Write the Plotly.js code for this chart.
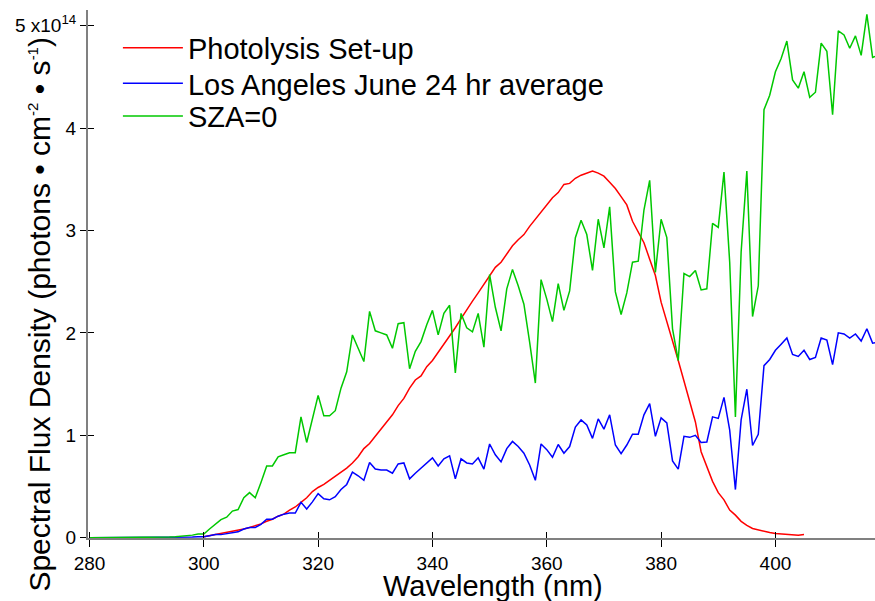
<!DOCTYPE html>
<html>
<head>
<meta charset="utf-8">
<script src="https://cdn.plot.ly/plotly-3.0.1.min.js"></script>
<style>html,body{margin:0;padding:0;background:#fff;}#chart{width:875px;height:601px;}</style>
</head>
<body>
<div id="chart"></div>
<script>
// Values in units of 1e14 photons cm^-2 s^-1
// Wavelength grids (nm)
const wlStart = 280;           // SZA=0 and Los Angeles series, 1 nm steps
const redStart = 300;          // Photolysis set-up, 1 nm steps

const sza0 = [
 0,0,0,0,0,0,0,0,0,0,0,
 0.002,0.003,0.004,0.006,0.008,0.012,0.018,0.025,0.035,0.035,
 0.085,0.127,0.176,0.20,0.26,0.275,0.39,0.44,0.39,0.54,
 0.70,0.70,0.79,0.81,0.83,0.83,1.18,0.93,1.16,1.39,
 1.19,1.19,1.24,1.46,1.62,1.98,1.85,1.72,2.21,2.02,
 2.00,1.98,1.85,2.09,2.10,1.65,1.82,1.915,2.08,2.22,
 1.98,2.19,2.27,1.61,2.19,2.05,2.01,2.19,1.86,2.57,
 2.25,2.02,2.43,2.62,2.46,2.28,1.91,1.51,2.52,2.33,
 2.11,2.48,2.22,2.41,2.93,3.10,2.96,2.61,3.11,2.83,
 3.23,2.40,2.18,2.39,2.69,2.70,3.20,3.49,2.59,3.11,
 2.93,2.04,1.73,2.58,2.55,2.61,2.42,2.43,3.07,3.03,
 3.57,2.69,1.18,2.79,3.58,2.16,2.46,4.18,4.32,4.55,
 4.68,4.85,4.47,4.39,4.55,4.30,4.35,4.83,4.75,4.13,
 4.95,4.91,4.78,4.90,4.71,5.11,4.69,4.71
];

const laJune = [
 0,0,0,0,0,0,0,0,0,0,0,
 0,0,0,0,0,0.002,0.004,0.006,0.008,0.01,
 0.02,0.03,0.03,0.04,0.05,0.057,0.085,0.10,0.10,0.13,
 0.18,0.18,0.21,0.23,0.24,0.24,0.345,0.28,0.35,0.43,
 0.38,0.37,0.40,0.47,0.52,0.64,0.605,0.56,0.735,0.67,
 0.66,0.66,0.63,0.72,0.73,0.575,0.63,0.68,0.73,0.78,
 0.70,0.77,0.80,0.575,0.77,0.73,0.72,0.78,0.67,0.915,
 0.81,0.74,0.87,0.94,0.89,0.825,0.71,0.56,0.915,0.86,
 0.785,0.91,0.825,0.89,1.08,1.15,1.10,0.97,1.16,1.06,
 1.20,0.905,0.82,0.905,1.01,1.01,1.20,1.31,0.99,1.17,
 1.12,0.75,0.67,0.99,0.98,1.00,0.93,0.935,1.18,1.165,
 1.37,1.05,0.47,1.15,1.45,0.90,1.01,1.68,1.74,1.83,
 1.89,1.95,1.79,1.77,1.83,1.74,1.76,1.95,1.93,1.69,
 2.00,1.99,1.95,1.99,1.92,2.04,1.90,1.91
];

const photolysis = [
 0.01,0.02,0.03,0.04,0.05,0.06,0.076,0.085,0.10,0.115,
 0.135,0.16,0.18,0.21,0.23,0.27,0.30,0.345,0.39,0.45,
 0.49,0.52,0.56,0.60,0.64,0.68,0.73,0.79,0.87,0.92,
 0.99,1.06,1.12,1.20,1.29,1.36,1.46,1.54,1.58,1.67,
 1.73,1.81,1.89,1.96,2.05,2.14,2.23,2.31,2.39,2.47,
 2.56,2.64,2.69,2.77,2.85,2.91,2.96,3.04,3.11,3.17,
 3.25,3.32,3.37,3.45,3.46,3.51,3.54,3.56,3.58,3.56,
 3.53,3.47,3.41,3.33,3.25,3.09,2.98,2.88,2.72,2.56,
 2.30,2.10,1.92,1.73,1.53,1.33,1.13,0.84,0.70,0.55,
 0.44,0.37,0.27,0.22,0.16,0.12,0.09,0.075,0.06,0.05,
 0.04,0.035,0.03,0.03,0.025,0.03
];

const seriesNames = ['Photolysis Set-up', 'Los Angeles June 24 hr average', 'SZA=0'];
const yTickVals = [0, 1, 2, 3, 4, 5];
const yTickText = ['0', '1', '2', '3', '4', '5 x10<sup>14</sup>'];
const xTickVals = [280, 300, 320, 340, 360, 380, 400];

const wl = sza0.map((_, i) => wlStart + i);
const wlRed = photolysis.map((_, i) => redStart + i);

const FONT = 'Arial, "Liberation Sans", Helvetica, sans-serif';

const traces = [
  {x: wlRed, y: photolysis, name: seriesNames[0], mode: 'lines', line: {color: '#ff0000', width: 1.5}, legend: 'legend'},
  {x: wl, y: laJune, name: seriesNames[1], mode: 'lines', line: {color: '#0000ff', width: 1.5}, legend: 'legend2'},
  {x: wl, y: sza0, name: seriesNames[2], mode: 'lines', line: {color: '#00c800', width: 1.5}, legend: 'legend3'},
  {x: [], y: [], xaxis: 'x2', yaxis: 'y2', showlegend: false, hoverinfo: 'skip'}
];

const xr = [279.74, 417.42];
const yr = [-0.003, 5.153];

function legendAt(yPaper) {
  return {
    x: 0.038, y: yPaper, xanchor: 'left', yanchor: 'middle',
    font: {family: FONT, size: 29, color: '#000'},
    bgcolor: 'rgba(0,0,0,0)', borderwidth: 0,
    itemwidth: 60
  };
}

const layout = {
  width: 875, height: 601,
  margin: {l: 88, r: 0, t: 10, b: 63, pad: 0},
  paper_bgcolor: '#fff', plot_bgcolor: '#fff',
  font: {family: FONT, color: '#000'},
  showlegend: true,
  legend: legendAt(0.928),
  legend2: legendAt(0.861),
  legend3: legendAt(0.799),
  xaxis: {
    range: xr, showgrid: false, zeroline: false,
    showline: true, linecolor: '#808080', linewidth: 2,
    ticks: 'outside', ticklen: 7, tickwidth: 1, tickcolor: '#000',
    tickvals: xTickVals, ticktext: xTickVals.map(String),
    tickfont: {family: FONT, size: 19, color: '#000'}
  },
  yaxis: {
    range: yr, showgrid: false, zeroline: false,
    showline: true, linecolor: '#808080', linewidth: 2,
    ticks: 'outside', ticklen: 6, tickwidth: 1, tickcolor: '#000',
    tickvals: yTickVals, ticktext: yTickText,
    tickfont: {family: FONT, size: 19, color: '#000'}
  },
  xaxis2: {
    range: xr, overlaying: 'x', anchor: 'y', side: 'bottom',
    showgrid: false, zeroline: false, showline: false,
    ticks: 'inside', ticklen: 6, tickwidth: 1, tickcolor: '#000',
    tickvals: xTickVals, showticklabels: false
  },
  yaxis2: {
    range: yr, overlaying: 'y', anchor: 'x', side: 'left',
    showgrid: false, zeroline: false, showline: false,
    ticks: 'inside', ticklen: 6, tickwidth: 1, tickcolor: '#000',
    tickvals: yTickVals, showticklabels: false
  },
  annotations: [
    {text: 'Wavelength (nm)', xref: 'paper', yref: 'paper', x: 0.5146, y: -0.0909,
     xanchor: 'center', yanchor: 'middle', showarrow: false,
     font: {family: FONT, size: 29, color: '#000'}},
    {text: 'Spectral Flux Density (photons • cm<sup><span style="font-size:15px">-2</span></sup> • s<sup><span style="font-size:15px">-1</span></sup>)',
     xref: 'paper', yref: 'paper', x: -0.061, y: 0.425, textangle: -90,
     xanchor: 'center', yanchor: 'middle', showarrow: false,
     font: {family: FONT, size: 30, color: '#000'}}
  ]
};

Plotly.newPlot('chart', traces, layout, {displayModeBar: false, staticPlot: true});
</script>
</body>
</html>
